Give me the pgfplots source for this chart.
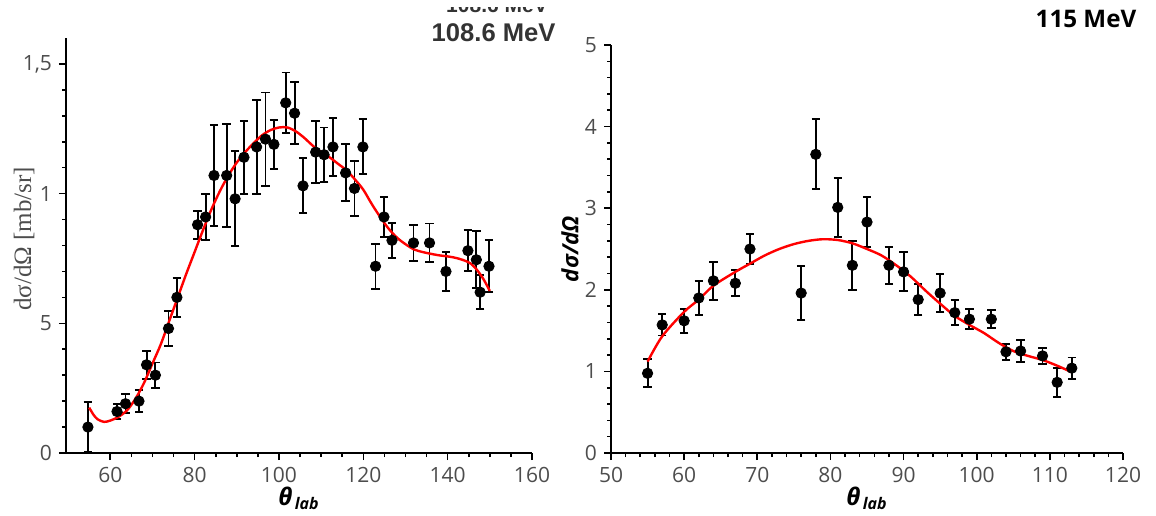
\documentclass[border=0pt]{standalone}
\usepackage{fontspec}
\setmainfont{Open Sans}
\newfontfamily\seriffont{Liberation Serif}
\newfontfamily\arialfont{Liberation Sans}
\usepackage{pgfplots}
\usepackage{pgfplotstable}
\pgfplotsset{compat=1.18}
\definecolor{tickgray}{HTML}{4D4D4D}
\definecolor{titlegray}{HTML}{333333}

\pgfplotstableread{
x y e
54.7 0.100 0.095
61.6 0.160 0.030
63.6 0.190 0.036
66.8 0.200 0.042
68.6 0.340 0.053
70.7 0.300 0.049
73.8 0.480 0.066
75.8 0.600 0.076
80.7 0.880 0.054
82.6 0.910 0.090
84.6 1.070 0.195
87.6 1.070 0.200
89.6 0.980 0.183
91.7 1.140 0.140
94.7 1.180 0.180
96.8 1.210 0.180
98.8 1.190 0.094
101.6 1.350 0.117
103.7 1.310 0.120
105.7 1.030 0.106
108.7 1.160 0.120
110.7 1.150 0.105
112.8 1.180 0.113
115.8 1.080 0.110
117.9 1.020 0.105
119.9 1.180 0.106
122.9 0.720 0.087
124.9 0.910 0.078
126.8 0.820 0.068
131.9 0.810 0.070
135.7 0.810 0.075
139.6 0.700 0.074
144.8 0.780 0.080
146.8 0.745 0.110
147.7 0.620 0.065
149.8 0.720 0.100
}\leftdata

\pgfplotstableread{
x y
55 0.175
56 0.148
57 0.130
58.5 0.120
60 0.125
62 0.140
64 0.165
66 0.210
68 0.270
70 0.345
72 0.420
74 0.510
76 0.600
78 0.690
80 0.775
82 0.860
84 0.940
86 1.010
88 1.070
90 1.120
92 1.160
94 1.195
96 1.225
98 1.245
100 1.255
102 1.255
104 1.240
106 1.215
108 1.185
110 1.160
112 1.140
114 1.115
116 1.090
118 1.055
120 1.015
122 0.960
124 0.910
126 0.865
128 0.830
130 0.805
132 0.785
134 0.775
136 0.768
138 0.762
140 0.758
142 0.752
144 0.742
145.5 0.730
147 0.705
148.5 0.670
150 0.625
}\leftfit

\pgfplotstableread{
x y e
55 0.977 0.17
57 1.57 0.13
60 1.62 0.15
62 1.90 0.21
64 2.11 0.23
67 2.08 0.16
69 2.50 0.18
76 1.96 0.33
78 3.66 0.43
81 3.01 0.36
83 2.30 0.30
85 2.83 0.31
88 2.30 0.23
90 2.22 0.24
92 1.88 0.19
95 1.96 0.23
97 1.72 0.15
99 1.64 0.12
102 1.64 0.11
104 1.24 0.10
106 1.25 0.13
109 1.19 0.10
111 0.866 0.18
113 1.04 0.13
}\rightdata

\pgfplotstableread{
x y
55 1.12
57 1.43
60 1.73
62 1.88
64 2.05
67 2.22
69 2.32
71 2.42
73 2.50
75 2.56
77 2.60
79 2.62
81 2.61
83 2.57
85 2.50
87 2.42
89 2.30
91 2.16
93 1.99
95 1.83
97 1.68
99 1.57
101 1.47
103 1.35
105 1.25
107 1.19
109 1.14
111 1.07
113 0.99
}\rightfit

\begin{document}
\begin{tikzpicture}
\path[use as bounding box] (0pt,0pt) rectangle (578pt,257.5pt);
\pgfplotsset{
 common/.style={
  scale only axis,
  axis x line*=bottom, axis y line*=left,
  axis line style={line width=1pt, -},
  tick align=outside,
  major tick length=3.5pt, minor tick length=2pt,
  tick style={black, line width=0.8pt},
  tick label style={font=\fontsize{10.5}{12}\selectfont, text=tickgray},
  /pgf/number format/assume math mode=true,
  clip=false,
  xlabel={\bfseries\itshape θ\textsubscript{\,lab}},
  xlabel style={at={(axis description cs:0.5,-0.11)}, anchor=center, font=\fontsize{12}{14}\selectfont},
 },
 datapts/.style={only marks, mark=*, mark size=2.6pt, black,
   error bars/.cd, y dir=both, y explicit,
   error bar style={line width=0.95pt, black},
   error mark options={rotate=90, mark size=2.1pt, line width=0.95pt, black}},
 fit/.style={red, line width=1.2pt, no markers, smooth},
}
\begin{axis}[common, at={(33pt,31pt)}, anchor=south west,
  width=233pt, height=207.5pt,
  xmin=49.5, xmax=160, ymin=0, ymax=1.6,
  xtick={60,80,...,160}, minor x tick num=3,
  ytick={0,0.5,1,1.5}, yticklabels={0,5,1,{1,5}}, minor y tick num=4,
  ylabel={dσ/dΩ [mb/sr]},
  ylabel style={at={(axis description cs:-0.09,0.516)}, anchor=center, font=\seriffont\fontsize{12.5}{14}\selectfont, text=tickgray},
]
\addplot[datapts] table[x=x, y=y, y error=e] {\leftdata};
\addplot[fit] table[x=x, y=y] {\leftfit};
\end{axis}
\begin{axis}[common, at={(305.5pt,31pt)}, anchor=south west,
  width=256pt, height=204pt,
  xmin=50, xmax=120, ymin=0, ymax=5,
  xtick={50,60,...,120}, minor x tick num=4,
  ytick={0,1,...,5}, minor y tick num=4,
  ylabel={\bfseries\itshape dσ/dΩ},
  ylabel style={at={(axis description cs:-0.080,0.5)}, anchor=center, font=\fontsize{11.2}{13}\selectfont},
]
\addplot[datapts] table[x=x, y=y, y error=e] {\rightdata};
\addplot[fit] table[x=x, y=y] {\rightfit};
\end{axis}
\begin{scope}
\clip (200pt,250.5pt) rectangle (300pt,253.5pt);
\node[font=\arialfont\bfseries\fontsize{10.5}{12}\selectfont, text=titlegray, anchor=base] at (248.5pt,251.2pt) {108.6 MeV};
\end{scope}
\node[font=\arialfont\bfseries\fontsize{12.8}{14}\selectfont, text=titlegray, anchor=base] at (246.8pt,236.6pt) {108.6 MeV};
\node[font=\bfseries\fontsize{12.1}{14}\selectfont, anchor=base] at (543pt,243.8pt) {115 MeV};
\end{tikzpicture}
\end{document}
